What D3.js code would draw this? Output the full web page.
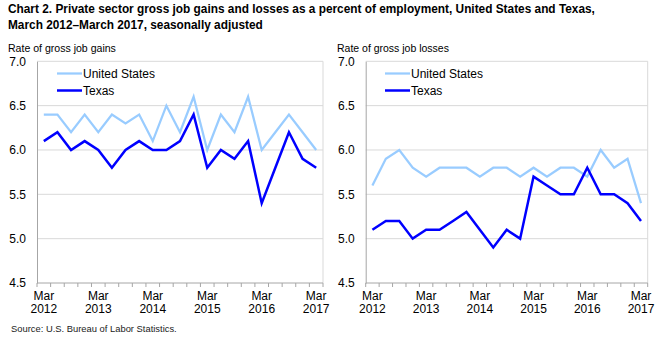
<!DOCTYPE html>
<html>
<head>
<meta charset="utf-8">
<script src="https://cdn.jsdelivr.net/npm/d3@7"></script>
<style>
  html, body { margin: 0; padding: 0; background: #fff; }
  svg { display: block; font-family: "Liberation Sans", Arial, sans-serif; }
</style>
</head>
<body>
<svg id="chart" width="663" height="341"></svg>
<script>
// ---- Data ----
const quarters = [
  "Mar 2012","Jun 2012","Sep 2012","Dec 2012",
  "Mar 2013","Jun 2013","Sep 2013","Dec 2013",
  "Mar 2014","Jun 2014","Sep 2014","Dec 2014",
  "Mar 2015","Jun 2015","Sep 2015","Dec 2015",
  "Mar 2016","Jun 2016","Sep 2016","Dec 2016",
  "Mar 2017"
];
const usGains   = [6.4,6.4,6.2,6.4,6.2,6.4,6.3,6.4,6.1,6.5,6.2,6.6,6.0,6.4,6.2,6.6,6.0,6.2,6.4,6.2,6.0];
const txGains   = [6.1,6.2,6.0,6.1,6.0,5.8,6.0,6.1,6.0,6.0,6.1,6.4,5.8,6.0,5.9,6.1,5.4,5.8,6.2,5.9,5.8];
const usLosses  = [5.6,5.9,6.0,5.8,5.7,5.8,5.8,5.8,5.7,5.8,5.8,5.7,5.8,5.7,5.8,5.8,5.7,6.0,5.8,5.9,5.4];
const txLosses  = [5.1,5.2,5.2,5.0,5.1,5.1,5.2,5.3,5.1,4.9,5.1,5.0,5.7,5.6,5.5,5.5,5.8,5.5,5.5,5.4,5.2];
const yTicks    = [4.5,5.0,5.5,6.0,6.5,7.0];
const seriesNames = ["United States","Texas"];
const titleLines = [
  "Chart 2. Private sector gross job gains and losses as a percent of employment, United States and Texas,",
  "March 2012\u2013March 2017, seasonally adjusted"
];
const panelTitles = ["Rate of gross job gains","Rate of gross job losses"];
const sourceText = "Source: U.S. Bureau of Labor Statistics.";

// ---- Styles ----
const US_COLOR = "#99ccff";
const TX_COLOR = "#0000ff";
const GRID = "#d9d9d9";
const AXIS = "#a6a6a6";

const svg = d3.select("#chart");

function fitText(sel, targetWidth, baseSize) {
  sel.style("font-size", baseSize + "px");
  const w = sel.node().getComputedTextLength();
  sel.style("font-size", (baseSize * targetWidth / w).toFixed(2) + "px");
}

// Title
const t1 = svg.append("text").attr("x", 8).attr("y", 13)
  .attr("font-weight", "bold").attr("fill", "#000").text(titleLines[0]);
fitText(t1, 587, 12);
svg.append("text").attr("x", 8).attr("y", 29)
  .attr("font-weight", "bold").attr("fill", "#000")
  .style("font-size", t1.style("font-size")).text(titleLines[1]);

// Source
const src = svg.append("text").attr("x", 11).attr("y", 332).attr("fill", "#222").text(sourceText);
fitText(src, 166, 10);

function drawPanel(cfg) {
  const { left, right, top, bottom, us, tx, title, titleX, titleW, legendX } = cfg;
  const x = d3.scaleBand().domain(d3.range(quarters.length)).range([left, right]).padding(0);
  const y = d3.scaleLinear().domain([4.5, 7.0]).range([bottom, top]);
  const g = svg.append("g");

  // gridlines
  g.selectAll("line.grid").data(yTicks.filter(v => v > 4.5)).enter().append("line")
    .attr("x1", left).attr("x2", right)
    .attr("y1", d => y(d)).attr("y2", d => y(d))
    .attr("stroke", GRID).attr("stroke-width", 1);
  // right border of plot area
  g.append("line").attr("x1", right).attr("x2", right).attr("y1", y(7)).attr("y2", y(4.5))
    .attr("stroke", GRID).attr("stroke-width", 1);

  // y axis
  const ya = g.append("g").attr("transform", `translate(${left},0)`)
    .call(d3.axisLeft(y).tickValues(yTicks).tickSize(0).tickSizeOuter(0).tickPadding(11)
      .tickFormat(d3.format(".1f")));
  ya.select(".domain").attr("stroke", AXIS);
  ya.selectAll("text").attr("fill", "#000").style("font-size", "12px")
    .style("font-family", '"Liberation Sans", Arial, sans-serif');

  // x axis baseline
  g.append("line").attr("x1", left).attr("x2", right).attr("y1", bottom).attr("y2", bottom)
    .attr("stroke", AXIS).attr("stroke-width", 1);
  // tick marks at category boundaries
  const bounds = d3.range(quarters.length + 1).map(i => i < quarters.length ? x(i) : x.range()[1]);
  g.selectAll("line.xt").data(bounds).enter().append("line")
    .attr("x1", d => d).attr("x2", d => d).attr("y1", bottom).attr("y2", bottom + 4)
    .attr("stroke", AXIS).attr("stroke-width", 1);
  // labels every 4th quarter
  const lab = g.selectAll("text.xl").data(d3.range(quarters.length).filter(i => i % 4 === 0))
    .enter().append("text")
    .attr("text-anchor", "middle").attr("fill", "#000").style("font-size", "12px");
  lab.append("tspan").attr("x", i => x(i) + x.bandwidth() / 2).attr("y", bottom + 16.5)
    .text(i => quarters[i].split(" ")[0]);
  lab.append("tspan").attr("x", i => x(i) + x.bandwidth() / 2).attr("y", bottom + 29.5)
    .text(i => quarters[i].split(" ")[1]);

  // panel title
  const pt = g.append("text").attr("x", titleX).attr("y", 52).attr("fill", "#000").text(title);
  fitText(pt, titleW, 11);

  // lines
  const line = d3.line().x((d, i) => x(i) + x.bandwidth() / 2).y(d => y(d));
  g.append("path").datum(us).attr("d", line).attr("fill", "none")
    .attr("stroke", US_COLOR).attr("stroke-width", 2.25);
  g.append("path").datum(tx).attr("d", line).attr("fill", "none")
    .attr("stroke", TX_COLOR).attr("stroke-width", 2.5);

  // legend
  const leg = [[seriesNames[0], US_COLOR, 73.5, 2.25], [seriesNames[1], TX_COLOR, 90.5, 2.5]];
  leg.forEach(([name, color, ly, sw]) => {
    g.append("line").attr("x1", legendX).attr("x2", legendX + 25).attr("y1", ly).attr("y2", ly)
      .attr("stroke", color).attr("stroke-width", sw);
    g.append("text").attr("x", legendX + 26).attr("y", ly + 4.5).attr("fill", "#000")
      .style("font-size", "12px").text(name);
  });
}

drawPanel({ left: 37, right: 323, top: 61.3, bottom: 283, us: usGains, tx: txGains,
  title: panelTitles[0], titleX: 8, titleW: 108, legendX: 57 });
drawPanel({ left: 365.7, right: 647.7, top: 61.3, bottom: 283, us: usLosses, tx: txLosses,
  title: panelTitles[1], titleX: 337, titleW: 112, legendX: 385 });
</script>
</body>
</html>
